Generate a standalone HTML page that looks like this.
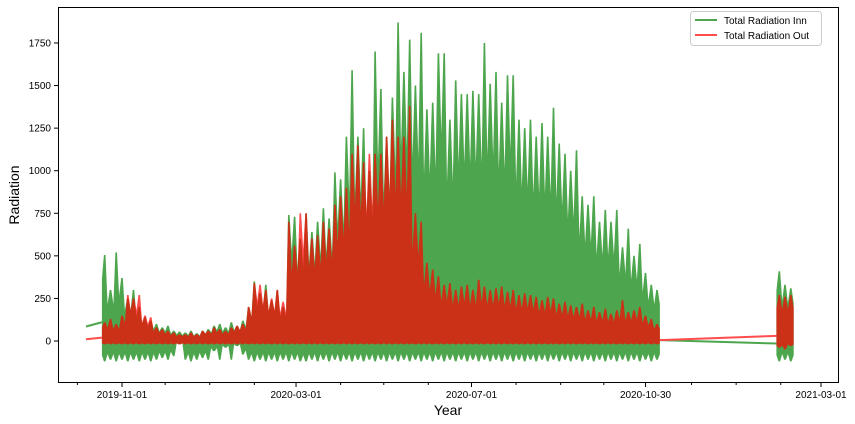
<!DOCTYPE html>
<html><head><meta charset="utf-8"><style>
body{margin:0;background:#fff;}
svg{display:block;font-family:"Liberation Sans",sans-serif;}
</style></head><body>
<svg id="chart" width="855" height="424" viewBox="0 0 855 424" xmlns="http://www.w3.org/2000/svg">
<g id="marks"></g>
<rect x="58.5" y="7.5" width="780" height="375" fill="none" stroke="#000" stroke-width="1"/>
<g id="axes"></g>
<text x="19" y="195" font-size="14" text-anchor="middle" transform="rotate(-90 19 195)">Radiation</text>
<text x="448" y="415" font-size="14" text-anchor="middle">Year</text>
<g>
<rect x="690.5" y="11.5" width="131" height="34" rx="3" fill="#fff" stroke="#ccc"/>
<line x1="695" y1="20" x2="717" y2="20" stroke="#4da64d" stroke-width="2"/>
<text x="724" y="24" font-size="10">Total Radiation Inn</text>
<line x1="695" y1="35" x2="717" y2="35" stroke="#ff4d4d" stroke-width="2"/>
<text x="724" y="39" font-size="10">Total Radiation Out</text>
</g>
</svg>
<script>
// day offsets relative to 2019-11-01
const binDays = 4;
const season1Start = -14;
const innMax = [505,300,520,370,250,300,200,140,120,100,80,90,60,55,50,60,45,60,70,90,100,80,110,90,120,200,350,280,330,240,300,200,740,730,600,750,640,700,780,720,990,950,1200,1590,1200,1250,1000,1700,1480,1200,1430,1870,1580,1770,1500,1810,1360,1400,1690,1690,1300,1530,1450,1450,1470,1450,1750,1510,1580,1400,1560,1560,1300,1250,1300,1200,1280,1200,1370,1160,1100,1000,1120,850,800,850,700,770,700,770,550,660,500,570,400,330,300];
const innMin = [-120,-110,-120,-110,-120,-110,-120,-110,-120,-110,-100,-110,-90,-20,-110,-120,-110,-100,-110,-60,-110,-40,-110,-30,-80,-110,-120,-110,-120,-110,-120,-110,-120,-110,-120,-120,-110,-120,-110,-120,-110,-120,-110,-120,-110,-120,-110,-120,-110,-120,-110,-120,-110,-120,-110,-120,-110,-120,-110,-120,-110,-120,-110,-120,-110,-120,-110,-120,-110,-120,-110,-120,-110,-120,-110,-120,-110,-120,-110,-120,-110,-120,-110,-120,-110,-120,-110,-120,-110,-120,-110,-120,-110,-120,-110,-120,-110];
const outMax = [110,130,100,150,270,250,270,150,140,80,70,60,50,40,40,50,40,60,60,80,70,60,80,90,100,200,340,330,300,250,300,230,700,560,750,750,600,620,700,660,800,850,900,1100,1150,1050,1100,1100,1100,1200,1300,1200,1200,1380,750,700,460,420,380,330,340,300,320,330,300,360,320,300,310,320,290,300,270,280,270,260,240,260,250,220,230,210,200,220,180,200,170,190,160,180,240,170,180,200,150,130,100];
const outMin = -20;
const season2Start = 455;
const inn2Max = [410,330,310];
const inn2Min = [-120,-110,-120];
const out2Max = [270,260,270];
const out2Min = [-40,-50,-30];
const innLead = [[-25,85],[-14,110]];
const outLead = [[-25,10],[-14,20]];
const innGap = [[374,5],[455,-15]];
const outGap = [[374,5],[455,30]];
const yTicks = [0,250,500,750,1000,1250,1500,1750];
const xTickDays = [0,121,243,364,486];
const xTickLabels = ["2019-11-01","2020-03-01","2020-07-01","2020-10-30","2021-03-01"];
const minorDays = [-31,30,61,92,152,182,213,274,305,335,396,427,458,517];

const X = d => 122 + d * (699/486);
const Y = v => 341 - v * 0.1703;
const NS = "http://www.w3.org/2000/svg";
const marks = document.getElementById('marks');
const axes = document.getElementById('axes');
function mk(tag, attrs, parent){const e=document.createElementNS(NS,tag);for(const k in attrs)e.setAttribute(k,attrs[k]);parent.appendChild(e);return e;}
const GREEN="#4da64d", RED="rgba(255,0,0,0.7)";

// spiky envelope: peaks at bin centres, valleys at bin edges
function spikes(start, maxs, mins, color, name){
  const n=maxs.length, mn=i=>Array.isArray(mins)?mins[i]:mins;
  const top=[], bot=[];
  for(let i=0;i<n;i++){
    const x0=X(start+i*binDays), xc=X(start+(i+0.5)*binDays);
    const prev = i>0?maxs[i-1]:maxs[i];
    const valley = 0.72*Math.min(prev,maxs[i]);
    top.push([x0, Y(valley)]);
    top.push([xc-0.8, Y(maxs[i])]);
    top.push([xc+0.8, Y(maxs[i])]);
    const pmin = i>0?mn(i-1):mn(i);
    bot.push([x0, Y(0.7*Math.max(pmin,mn(i)))]);
    bot.push([xc-0.8, Y(mn(i))]);
    bot.push([xc+0.8, Y(mn(i))]);
  }
  const xe=X(start+n*binDays);
  top.push([xe, Y(0.72*maxs[n-1])]);
  bot.push([xe, Y(0.7*mn(n-1))]);
  const pts=top.concat(bot.reverse()).map(p=>p[0].toFixed(1)+','+p[1].toFixed(1)).join(' ');
  const p=mk('polygon',{points:pts,fill:color},marks);
  
  
}
function line(pts, color, name){
  const p=mk('polyline',{points:pts.map(q=>X(q[0])+','+Y(q[1])).join(' '),fill:'none',stroke:color,'stroke-width':2},marks);
  
  
}
line(innLead,GREEN,'inn-lead-line');
line(innGap,GREEN,'inn-gap-line');
spikes(season1Start,innMax,innMin,GREEN,'inn-series');
spikes(season2Start,inn2Max,inn2Min,GREEN,'inn-series-2');
line(outLead,"#ff4d4d",'out-lead-line');
line(outGap,"#ff4d4d",'out-gap-line');
spikes(season1Start,outMax,outMin,RED,'out-series');
spikes(season2Start,out2Max,out2Min,RED,'out-series-2');

yTicks.forEach(v=>{
  const t=mk('line',{x1:54,x2:58,y1:Y(v),y2:Y(v),stroke:'#000'},axes);
  
  
  const l=mk('text',{x:51,y:Y(v)+3.5,'font-size':10,'text-anchor':'end'},axes);
  l.textContent=v;
  
  
});
xTickDays.forEach((d,i)=>{
  const t=mk('line',{x1:X(d),x2:X(d),y1:383,y2:387,stroke:'#000'},axes);
  
  
  const l=mk('text',{x:X(d),y:398,'font-size':10,'text-anchor':'middle'},axes);
  l.textContent=xTickLabels[i];
  
  
});
minorDays.forEach(d=>{
  const x=X(d); if(x<59||x>838) return;
  const t=mk('line',{x1:x,x2:x,y1:383,y2:385,stroke:'#000'},axes);
  
  
});
</script>
</body></html>
